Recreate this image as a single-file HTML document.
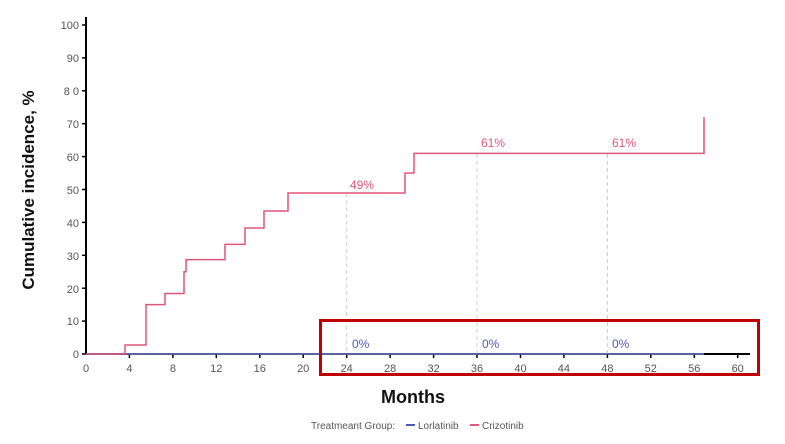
<!DOCTYPE html>
<html><head><style>body{margin:0;background:#fff}svg{display:block;font-family:"Liberation Sans",sans-serif}</style></head><body>
<svg width="785" height="444" viewBox="0 0 785 444">
<g fill="#555" font-size="11">
<line x1="86" y1="17" x2="86" y2="354" stroke="#000" stroke-width="2"/>
<line x1="86" y1="354" x2="750" y2="354" stroke="#000" stroke-width="1.5"/>
<g stroke="#000" stroke-width="1.5">
<line x1="82" y1="25" x2="86" y2="25"/><line x1="82" y1="57.9" x2="86" y2="57.9"/><line x1="82" y1="90.8" x2="86" y2="90.8"/><line x1="82" y1="123.7" x2="86" y2="123.7"/><line x1="82" y1="156.6" x2="86" y2="156.6"/><line x1="82" y1="189.5" x2="86" y2="189.5"/><line x1="82" y1="222.4" x2="86" y2="222.4"/><line x1="82" y1="255.3" x2="86" y2="255.3"/><line x1="82" y1="288.2" x2="86" y2="288.2"/><line x1="82" y1="321.1" x2="86" y2="321.1"/><line x1="82" y1="354" x2="86" y2="354"/>
</g>
<g text-anchor="end">
<text x="79" y="29">100</text><text x="79" y="62">90</text><text x="79" y="95">8 0</text><text x="79" y="128">70</text><text x="79" y="161">60</text><text x="79" y="194">50</text><text x="79" y="227">40</text><text x="79" y="260">30</text><text x="79" y="293">20</text><text x="79" y="325">10</text><text x="79" y="358">0</text>
</g>
<g stroke="#000" stroke-width="1.5">
<line x1="129.4" y1="354" x2="129.4" y2="358"/><line x1="172.9" y1="354" x2="172.9" y2="358"/><line x1="216.3" y1="354" x2="216.3" y2="358"/><line x1="259.8" y1="354" x2="259.8" y2="358"/><line x1="303.2" y1="354" x2="303.2" y2="358"/><line x1="346.7" y1="354" x2="346.7" y2="358"/><line x1="390.1" y1="354" x2="390.1" y2="358"/><line x1="433.6" y1="354" x2="433.6" y2="358"/><line x1="477" y1="354" x2="477" y2="358"/><line x1="520.5" y1="354" x2="520.5" y2="358"/><line x1="563.9" y1="354" x2="563.9" y2="358"/><line x1="607.4" y1="354" x2="607.4" y2="358"/><line x1="650.8" y1="354" x2="650.8" y2="358"/><line x1="694.3" y1="354" x2="694.3" y2="358"/><line x1="737.7" y1="354" x2="737.7" y2="358"/>
</g>
<g text-anchor="middle">
<text x="86" y="372">0</text><text x="129.4" y="372">4</text><text x="172.9" y="372">8</text><text x="216.3" y="372">12</text><text x="259.8" y="372">16</text><text x="303.2" y="372">20</text><text x="346.7" y="372">24</text><text x="390.1" y="372">28</text><text x="433.6" y="372">32</text><text x="477" y="372">36</text><text x="520.5" y="372">40</text><text x="563.9" y="372">44</text><text x="607.4" y="372">48</text><text x="650.8" y="372">52</text><text x="694.3" y="372">56</text><text x="737.7" y="372">60</text>
</g>
</g>
<g stroke="#ccc" stroke-dasharray="4,3" stroke-width="1">
<line x1="346.7" y1="193" x2="346.7" y2="354"/><line x1="477" y1="154" x2="477" y2="354"/><line x1="607.4" y1="154" x2="607.4" y2="354"/>
</g>
<line x1="86" y1="354" x2="704" y2="354" stroke="#4a5bb5" stroke-width="1.5"/>
<line x1="704" y1="354" x2="750" y2="354" stroke="#000" stroke-width="2"/>
<polyline fill="none" stroke="#e0557a" stroke-width="1.5" points="86,354 125,354 125,345 146,345 146,304.6 165,304.6 165,293.5 184,293.5 184,271.7 186,271.7 186,259.6 225,259.6 225,244.4 245,244.4 245,228 264,228 264,211 288,211 288,193 405,193 405,173 414,173 414,153.4 704,153.4 704,117"/>
<g font-size="12" fill="#e0557a"><text x="350" y="189">49%</text><text x="481" y="147">61%</text><text x="612" y="147">61%</text></g>
<g font-size="12" fill="#4a5bb5"><text x="352" y="348">0%</text><text x="482" y="348">0%</text><text x="612" y="348">0%</text></g>
<rect x="320.5" y="320.5" width="438" height="54" fill="none" stroke="#c00000" stroke-width="3"/>
<text transform="translate(34,190) rotate(-90)" text-anchor="middle" font-size="17" font-weight="bold" fill="#111">Cumulative incidence, %</text>
<text x="413" y="403" text-anchor="middle" font-size="18" font-weight="bold" fill="#111">Months</text>
<g font-size="10" fill="#555"><text x="311" y="429">Treatmeant Group:</text>
<line x1="406" y1="425" x2="415" y2="425" stroke="#4a5bb5" stroke-width="2"/><text x="418" y="429">Lorlatinib</text>
<line x1="470" y1="425" x2="479" y2="425" stroke="#e0557a" stroke-width="2"/><text x="482" y="429">Crizotinib</text></g>
</svg>
</body></html>
